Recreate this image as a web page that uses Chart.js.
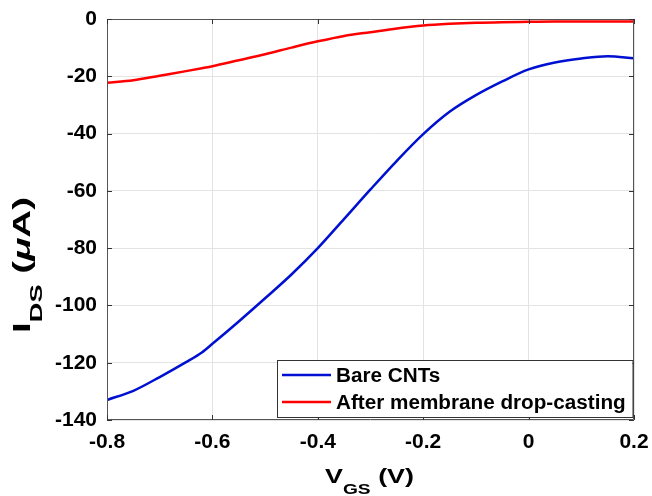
<!DOCTYPE html>
<html>
<head>
<meta charset="utf-8">
<script src="https://cdn.jsdelivr.net/npm/chart.js@4/dist/chart.umd.min.js"></script>
<style>
  html, body { margin: 0; padding: 0; background: #fff; }
  #wrap { width: 652px; height: 496px; position: relative; }
</style>
</head>
<body>
<div id="wrap"><canvas id="c" width="652" height="496"></canvas></div>
<script>
// ---- data ----
const vgs = [-0.8, -0.75, -0.7, -0.65, -0.62, -0.6, -0.55, -0.5, -0.45, -0.4, -0.35, -0.3, -0.25, -0.2, -0.15, -0.1, -0.05, 0, 0.05, 0.1, 0.15, 0.2];
const bareCNTs = [-133, -129.8, -125, -119.8, -116.4, -113.4, -105.6, -97.5, -89.2, -80, -69.8, -59.5, -49.5, -40.2, -32.4, -26.6, -21.8, -17.6, -15.2, -13.8, -13.0, -13.7];
const afterMembrane = [-22.3, -21.4, -19.8, -18.2, -17.2, -16.5, -14.4, -12.3, -10.0, -7.8, -5.9, -4.6, -3.3, -2.3, -1.7, -1.3, -1.1, -1.0, -0.9, -0.9, -0.9, -0.9];
const seriesLabels = ['Bare CNTs', 'After membrane drop-casting'];
const xTicks = [-0.8, -0.6, -0.4, -0.2, 0, 0.2];
const yTicks = [-140, -120, -100, -80, -60, -40, -20, 0];

const FONT = '"Liberation Sans", Arial, Helvetica, sans-serif';

const toPts = (ys) => ys.map((y, i) => ({ x: vgs[i], y }));

const innerTicks = {
  id: 'innerTicks',
  afterDatasetsDraw(chart) {
    const { ctx, chartArea: a, scales } = chart;
    ctx.save();
    ctx.strokeStyle = '#555';
    ctx.lineWidth = 1;
    ctx.beginPath();
    ctx.rect(a.left + 0.5, a.top + 0.5, a.right - a.left - 1, a.bottom - a.top - 1);
    ctx.stroke();
    ctx.strokeStyle = '#333';
    const L = 5;
    xTicks.forEach(v => {
      const px = Math.round(scales.x.getPixelForValue(v)) + 0.5;
      ctx.beginPath();
      ctx.moveTo(px, a.bottom); ctx.lineTo(px, a.bottom - L);
      ctx.moveTo(px, a.top); ctx.lineTo(px, a.top + L);
      ctx.stroke();
    });
    yTicks.forEach(v => {
      const py = Math.round(scales.y.getPixelForValue(v)) + 0.5;
      ctx.beginPath();
      ctx.moveTo(a.left, py); ctx.lineTo(a.left + L, py);
      ctx.moveTo(a.right, py); ctx.lineTo(a.right - L, py);
      ctx.stroke();
    });
    ctx.restore();
  }
};

const customLegend = {
  id: 'customLegend',
  afterDraw(chart) {
    const { ctx, chartArea: a } = chart;
    const boxL = 277, boxR = a.right - 1.5, boxT = 360, boxB = 417;
    ctx.save();
    ctx.fillStyle = '#fff';
    ctx.fillRect(boxL, boxT, boxR - boxL, boxB - boxT);
    ctx.strokeStyle = '#333';
    ctx.lineWidth = 1;
    ctx.strokeRect(boxL + 0.5, boxT + 0.5, boxR - boxL, boxB - boxT);
    ctx.font = 'bold 20.7px ' + FONT;
    ctx.textBaseline = 'middle';
    ctx.textAlign = 'left';
    const rows = [375, 402];
    chart.data.datasets.forEach((ds, i) => {
      const y = rows[i];
      ctx.strokeStyle = ds.borderColor;
      ctx.lineWidth = 2.5;
      ctx.beginPath();
      ctx.moveTo(282, y); ctx.lineTo(331, y);
      ctx.stroke();
      ctx.fillStyle = '#000';
      ctx.fillText(ds.label, 336, y + 1);
    });
    ctx.restore();
  }
};

// draws a run of [text, fontSize, baselineOffset, italic] pieces, stretched to a given length
function drawRun(ctx, pieces, targetLen) {
  let w = 0;
  pieces.forEach(p => {
    ctx.font = (p[3] ? 'italic ' : '') + 'bold ' + p[1] + 'px ' + FONT;
    w += ctx.measureText(p[0]).width;
  });
  const sx = targetLen / w;
  ctx.save();
  ctx.scale(sx, 1);
  let t = 0;
  pieces.forEach(p => {
    ctx.font = (p[3] ? 'italic ' : '') + 'bold ' + p[1] + 'px ' + FONT;
    ctx.fillText(p[0], t, p[2]);
    t += ctx.measureText(p[0]).width;
  });
  ctx.restore();
}

const axisTitles = {
  id: 'axisTitles',
  afterDraw(chart) {
    const { ctx } = chart;
    ctx.save();
    ctx.fillStyle = '#000';
    ctx.textBaseline = 'alphabetic';
    ctx.textAlign = 'left';
    // x title: V_GS (V)
    ctx.save();
    ctx.translate(325, 483);
    drawRun(ctx, [['V', 21, 0], ['GS', 15, 11], [' (V)', 21, 0]], 89);
    ctx.restore();
    // y title: I_DS (μA), rotated
    ctx.save();
    ctx.translate(30, 333);
    ctx.rotate(-Math.PI / 2);
    drawRun(ctx, [['I', 24, 0], ['DS', 17, 12], [' (', 24, 0], ['\u03bc', 24, 0, true], ['A)', 24, 0]], 136);
    ctx.restore();
    ctx.restore();
  }
};

new Chart(document.getElementById('c'), {
  type: 'line',
  data: {
    datasets: [
      { label: seriesLabels[0], data: toPts(bareCNTs), borderColor: '#0010d0', borderWidth: 2.5, pointRadius: 0, cubicInterpolationMode: 'monotone', fill: false },
      { label: seriesLabels[1], data: toPts(afterMembrane), borderColor: '#ff0000', borderWidth: 2.5, pointRadius: 0, cubicInterpolationMode: 'monotone', fill: false }
    ]
  },
  options: {
    responsive: false,
    animation: false,
    devicePixelRatio: 1,
    layout: { padding: { left: 0, right: 18, top: 19, bottom: 0 } },
    plugins: { legend: { display: false }, tooltip: { enabled: false } },
    scales: {
      x: {
        type: 'linear', min: -0.8, max: 0.2,
        afterFit(s) { s.height = 76; s.paddingLeft = 0; s.paddingRight = 0; },
        afterBuildTicks(s) { s.ticks = xTicks.map(v => ({ value: v })); },
        grid: { color: '#e3e3e3', drawTicks: false, lineWidth: 1 },
        border: { display: false },
        ticks: {
          padding: 10, color: '#000',
          font: { family: FONT, size: 21, weight: 'bold' },
          callback: (v) => String(Number(v.toFixed(1)))
        }
      },
      y: {
        type: 'linear', min: -140, max: 0,
        afterFit(s) { s.width = 107; s.paddingTop = 0; s.paddingBottom = 0; },
        afterBuildTicks(s) { s.ticks = yTicks.map(v => ({ value: v })); },
        grid: { color: '#e3e3e3', drawTicks: false, lineWidth: 1 },
        border: { display: false },
        ticks: {
          padding: 10, color: '#000',
          font: { family: FONT, size: 21, weight: 'bold' },
          callback: (v) => String(v)
        }
      }
    }
  },
  plugins: [innerTicks, customLegend, axisTitles]
});
</script>
</body>
</html>
